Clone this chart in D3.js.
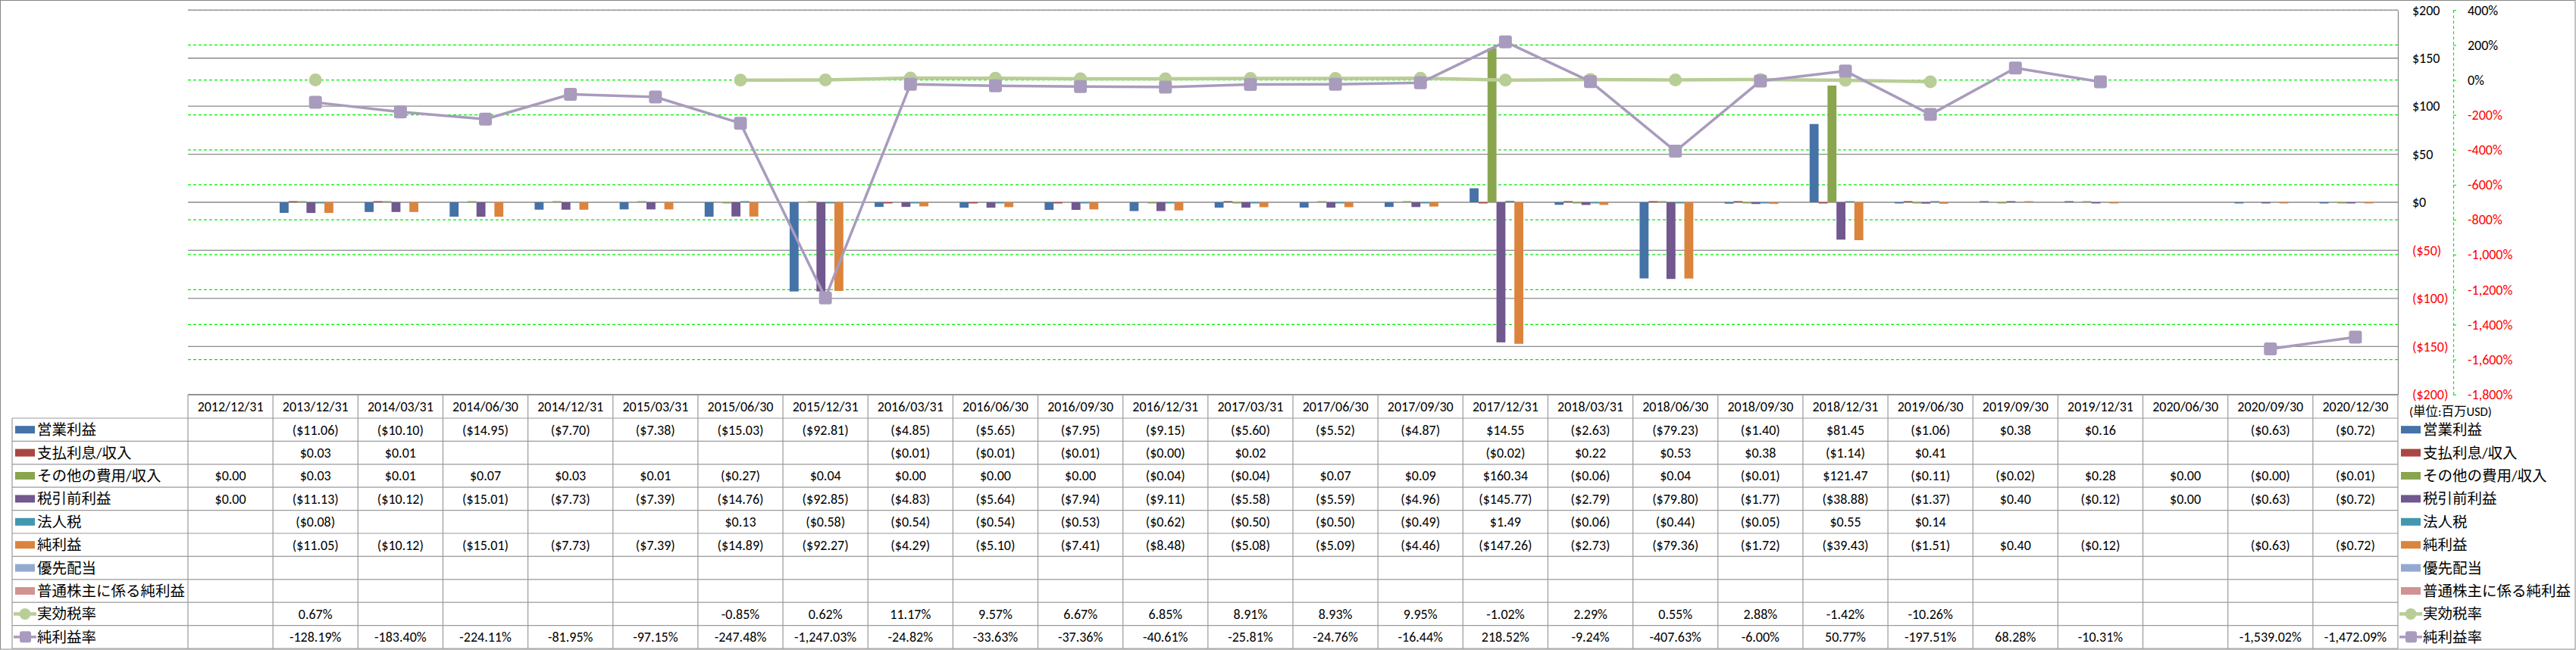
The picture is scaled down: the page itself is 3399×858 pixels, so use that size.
<!DOCTYPE html>
<html><head><meta charset="utf-8">
<script src="https://cdn.jsdelivr.net/npm/d3@7"></script>
<style>
html,body{margin:0;padding:0;background:#fff;}
svg{display:block;}
text{font-family:Carlito, Lato, 'Noto Sans CJK JP', sans-serif;}
</style></head><body>
<svg id="c" width="3399" height="858"></svg>
<script>
// ---------- DATA ----------
const categories = ["2012/12/31","2013/12/31","2014/03/31","2014/06/30","2014/12/31","2015/03/31","2015/06/30","2015/12/31","2016/03/31","2016/06/30","2016/09/30","2016/12/31","2017/03/31","2017/06/30","2017/09/30","2017/12/31","2018/03/31","2018/06/30","2018/09/30","2018/12/31","2019/06/30","2019/09/30","2019/12/31","2020/06/30","2020/09/30","2020/12/30"];
const operatingIncome = [null,-11.06,-10.10,-14.95,-7.70,-7.38,-15.03,-92.81,-4.85,-5.65,-7.95,-9.15,-5.60,-5.52,-4.87,14.55,-2.63,-79.23,-1.40,81.45,-1.06,0.38,0.16,null,-0.63,-0.72];
const interest = [null,0.03,0.01,null,null,null,null,null,-0.01,-0.01,-0.01,-0.00,0.02,null,null,-0.02,0.22,0.53,0.38,-1.14,0.41,null,null,null,null,null];
const otherIncome = [0.00,0.03,0.01,0.07,0.03,0.01,-0.27,0.04,0.00,0.00,0.00,-0.04,-0.04,0.07,0.09,160.34,-0.06,0.04,-0.01,121.47,-0.11,-0.02,0.28,0.00,-0.00,-0.01];
const pretaxIncome = [0.00,-11.13,-10.12,-15.01,-7.73,-7.39,-14.76,-92.85,-4.83,-5.64,-7.94,-9.11,-5.58,-5.59,-4.96,-145.77,-2.79,-79.80,-1.77,-38.88,-1.37,0.40,-0.12,0.00,-0.63,-0.72];
const incomeTax = [null,-0.08,null,null,null,null,0.13,-0.58,-0.54,-0.54,-0.53,-0.62,-0.50,-0.50,-0.49,1.49,-0.06,-0.44,-0.05,0.55,0.14,null,null,null,null,null];
const netIncome = [null,-11.05,-10.12,-15.01,-7.73,-7.39,-14.89,-92.27,-4.29,-5.10,-7.41,-8.48,-5.08,-5.09,-4.46,-147.26,-2.73,-79.36,-1.72,-39.43,-1.51,0.40,-0.12,null,-0.63,-0.72];
const preferredDividends = categories.map(() => null);
const netIncomeCommon = categories.map(() => null);
const effectiveTaxRate = [null,0.67,null,null,null,null,-0.85,0.62,11.17,9.57,6.67,6.85,8.91,8.93,9.95,-1.02,2.29,0.55,2.88,-1.42,-10.26,null,null,null,null,null];
const netMargin = [null,-128.19,-183.40,-224.11,-81.95,-97.15,-247.48,-1247.03,-24.82,-33.63,-37.36,-40.61,-25.81,-24.76,-16.44,218.52,-9.24,-407.63,-6.00,50.77,-197.51,68.28,-10.31,null,-1539.02,-1472.09];
const barNames = ["営業利益","支払利息/収入","その他の費用/収入","税引前利益","法人税","純利益","優先配当","普通株主に係る純利益"];
const lineNames = ["実効税率","純利益率"];
const usdTicks = [200,150,100,50,0,-50,-100,-150,-200];
const pctTicks = [400,200,0,-200,-400,-600,-800,-1000,-1200,-1400,-1600,-1800];
const unitLabel = "(単位:百万USD)";

// ---------- DRAW ----------
const barValues = [operatingIncome, interest, otherIncome, pretaxIncome, incomeTax, netIncome, preferredDividends, netIncomeCommon];
const lineValues = [effectiveTaxRate, netMargin];
const barColors = ["#4572A7","#AA4643","#89A54E","#71588F","#4198AF","#DB843D","#93A9CF","#D19392"];
const lineColors = ["#B9CD96","#A99BBD"];

const svg = d3.select("#c");
const L = 248, R = 3164, T = 13.3, B = 520.7;
const x = d3.scaleBand().domain(categories).range([L, R]);
const bw = x.bandwidth();
const barW = bw / 9.5;
const xs = d3.scaleBand().domain(d3.range(8)).range([0.75 * barW, bw - 0.75 * barW]);
const y = d3.scaleLinear().domain([-200, 200]).range([B, T]);
const y2 = d3.scaleLinear().domain([-1800, 400]).range([B, T]);

const fmt2 = d3.format(",.2f");
const isNeg = v => v < 0 || Object.is(v, -0);
const fmtUSD = v => isNeg(v) ? "($" + fmt2(Math.abs(v)) + ")" : "$" + fmt2(v);
const fmtPct = v => (v < 0 ? "-" : "") + fmt2(Math.abs(v)) + "%";
const fmtAxisUSD = v => v < 0 ? "($" + Math.abs(v) + ")" : "$" + v;
const fmtAxisPct = v => (v < 0 ? "-" : "") + d3.format(",")(Math.abs(v)) + "%";

// outer border
svg.append("rect").attr("x", 0.5).attr("y", 0.5).attr("width", 3397.5).attr("height", 856.5)
  .attr("fill", "none").attr("stroke", "#868686").attr("stroke-width", 1);

// secondary gridlines (green dashed)
svg.append("g").selectAll("line").data(pctTicks).join("line")
  .attr("x1", L).attr("x2", R).attr("y1", d => y2(d)).attr("y2", d => y2(d))
  .attr("stroke", "#00ee00").attr("stroke-width", 1.2).attr("stroke-dasharray", "4,3");
// primary gridlines (grey)
svg.append("g").selectAll("line").data(usdTicks).join("line")
  .attr("x1", L).attr("x2", R).attr("y1", d => y(d)).attr("y2", d => y(d))
  .attr("stroke", "#8a8a8a").attr("stroke-width", 1.3);

// primary axis (right of plot)
const ax1 = svg.append("g").attr("transform", `translate(${R},0)`)
  .call(d3.axisRight(y).tickValues(usdTicks).tickFormat(fmtAxisUSD).tickSizeInner(0).tickSizeOuter(0).tickPadding(19));
ax1.select(".domain").attr("stroke", "#8a8a8a").attr("stroke-width", 1.3);
ax1.selectAll("text").attr("font-size", 18).attr("fill", d => d < 0 ? "#ff0000" : "#000");

// secondary axis
const ax2 = svg.append("g").attr("transform", "translate(3237,0)")
  .call(d3.axisRight(y2).tickValues(pctTicks).tickFormat(fmtAxisPct).tickSizeInner(4).tickSizeOuter(0).tickPadding(15));
ax2.select(".domain").attr("stroke", "#00ee00").attr("stroke-width", 1.2).attr("stroke-dasharray", "4,3");
ax2.selectAll(".tick line").attr("stroke", "#00ee00").attr("stroke-width", 1.2);
ax2.selectAll("text").attr("font-size", 18).attr("fill", d => d < 0 ? "#ff0000" : "#000");

// bars
barValues.forEach((vals, i) => {
  svg.append("g").selectAll("rect")
    .data(vals.map((v, j) => ({v, c: categories[j]})).filter(d => d.v !== null))
    .join("rect")
    .attr("x", d => x(d.c) + xs(i))
    .attr("width", xs.bandwidth())
    .attr("y", d => {
      const h = Math.abs(y(d.v) - y(0));
      const hh = (d.v !== 0) ? Math.max(h, 1.5) : 0;
      return d.v > 0 ? y(0) - hh : y(0);
    })
    .attr("height", d => {
      const h = Math.abs(y(d.v) - y(0));
      return (d.v !== 0) ? Math.max(h, 1.5) : 0;
    })
    .attr("fill", barColors[i]);
});

// lines
const cx = c => x(c) + bw / 2;
lineValues.forEach((vals, i) => {
  const pts = vals.map((v, j) => ({v, c: categories[j]}));
  const line = d3.line().defined(d => d.v !== null).x(d => cx(d.c)).y(d => y2(d.v));
  svg.append("path").datum(pts).attr("d", line).attr("fill", "none")
    .attr("stroke", lineColors[i]).attr("stroke-width", i === 0 ? 4.5 : 3.5).attr("stroke-linejoin", "round");
  const g = svg.append("g");
  const data = pts.filter(d => d.v !== null);
  if (i === 0) {
    g.selectAll("circle").data(data).join("circle")
      .attr("cx", d => cx(d.c)).attr("cy", d => y2(d.v)).attr("r", 8.5).attr("fill", lineColors[i]);
  } else {
    g.selectAll("rect").data(data).join("rect")
      .attr("x", d => cx(d.c) - 8.5).attr("y", d => y2(d.v) - 8.5).attr("width", 17).attr("height", 17)
      .attr("rx", 3).attr("fill", lineColors[i]);
  }
});

// ---------- data table ----------
const tTop = 521.3, rTop = 552, rowH = 30.4, nRows = 10, tLeft = 16;
const tBottom = rTop + rowH * nRows;
const grid = svg.append("g").attr("stroke", "#9a9a9a").attr("stroke-width", 1.2);
grid.append("line").attr("x1", L).attr("x2", R).attr("y1", tTop).attr("y2", tTop);
d3.range(nRows + 1).forEach(k => {
  grid.append("line").attr("x1", tLeft).attr("x2", R).attr("y1", rTop + k * rowH).attr("y2", rTop + k * rowH);
});
grid.append("line").attr("x1", tLeft).attr("x2", tLeft).attr("y1", rTop).attr("y2", tBottom);
categories.forEach(c => {
  grid.append("line").attr("x1", x(c)).attr("x2", x(c)).attr("y1", tTop).attr("y2", tBottom);
});
grid.append("line").attr("x1", R).attr("x2", R).attr("y1", tTop).attr("y2", tBottom);

// header
svg.append("g").selectAll("text").data(categories).join("text")
  .attr("x", d => cx(d)).attr("y", (tTop + rTop) / 2).attr("dy", "0.35em")
  .attr("text-anchor", "middle").attr("font-size", 18).attr("fill", "#000").text(d => d);

// rows
const rowsVals = barValues.concat(lineValues);
const rowNames = barNames.concat(lineNames);
const rowColors = barColors.concat(lineColors);
rowsVals.forEach((vals, r) => {
  const yc = rTop + rowH * (r + 0.5);
  const fmt = r < 8 ? fmtUSD : fmtPct;
  svg.append("g").selectAll("text")
    .data(vals.map((v, j) => ({v, c: categories[j]})).filter(d => d.v !== null))
    .join("text")
    .attr("x", d => cx(d.c)).attr("y", yc).attr("dy", "0.35em")
    .attr("text-anchor", "middle").attr("font-size", 18).attr("fill", "#000")
    .text(d => fmt(d.v));
});

// legend keys (left in table, and right legend)
function legendKey(g, r, x0) {
  const yc = rTop + rowH * (r + 0.5);
  if (r < 8) {
    g.append("rect").attr("x", x0).attr("y", yc - 5).attr("width", 26).attr("height", 10).attr("fill", rowColors[r]);
  } else {
    g.append("line").attr("x1", x0 - 2).attr("x2", x0 + 28).attr("y1", yc).attr("y2", yc)
      .attr("stroke", rowColors[r]).attr("stroke-width", r === 8 ? 4.5 : 3.5);
    if (r === 8) g.append("circle").attr("cx", x0 + 13).attr("cy", yc).attr("r", 7.5).attr("fill", rowColors[r]);
    else g.append("rect").attr("x", x0 + 6).attr("y", yc - 7.5).attr("width", 15).attr("height", 15).attr("rx", 3).attr("fill", rowColors[r]);
  }
  g.append("text").attr("x", x0 + 29).attr("y", yc).attr("dy", "0.36em")
    .attr("font-size", 19.5).attr("fill", "#000").text(rowNames[r]);
}
const lg1 = svg.append("g"), lg2 = svg.append("g");
rowNames.forEach((n, r) => { legendKey(lg1, r, 20); legendKey(lg2, r, 3168); });

svg.append("text").attr("x", 3179).attr("y", 543).attr("dy", "0.35em")
  .attr("font-size", 16.5).attr("fill", "#000").text(unitLabel);
</script>
</body></html>
